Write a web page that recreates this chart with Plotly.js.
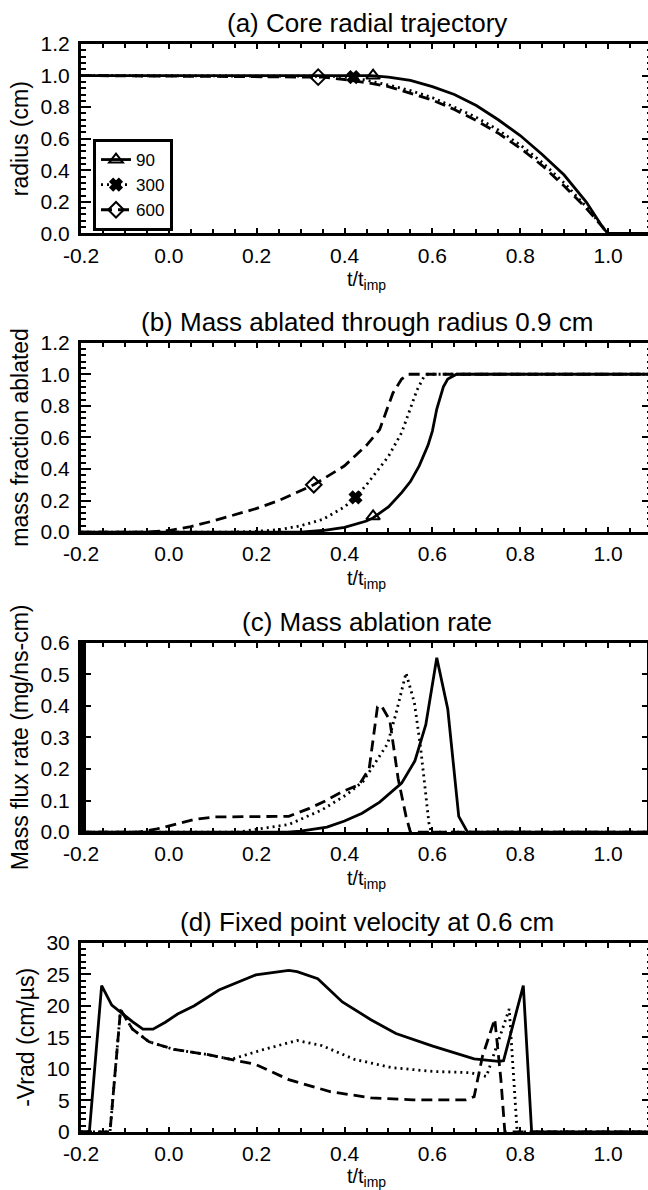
<!DOCTYPE html>
<html>
<head>
<meta charset="utf-8">
<script src="https://cdn.plot.ly/plotly-3.0.1.min.js"></script>
<style>
html,body{margin:0;padding:0;overflow:hidden;background:#fff;}
#chart{width:656px;height:1190px;}
</style>
</head>
<body>
<div id="chart"></div>
<script>
// ---------- Panel (a): core radial trajectory ----------
const tA90  = [-0.2, 0.46, 0.5, 0.55, 0.6, 0.65, 0.7, 0.75, 0.8, 0.85, 0.9, 0.95, 0.99, 1.0, 1.1];
const rA90  = [1.0, 1.0, 0.99, 0.97, 0.93, 0.88, 0.81, 0.72, 0.62, 0.5, 0.37, 0.2, 0.03, 0.0, 0.0];
const tA300 = [-0.2, 0.40, 0.45, 0.5, 0.55, 0.6, 0.65, 0.7, 0.75, 0.8, 0.85, 0.9, 0.95, 0.99, 1.0, 1.1];
const rA300 = [1.0, 0.995, 0.97, 0.94, 0.905, 0.86, 0.8, 0.735, 0.655, 0.56, 0.45, 0.32, 0.17, 0.03, 0.0, 0.0];
const tA600 = [-0.2, 0.3, 0.35, 0.4, 0.45, 0.5, 0.55, 0.6, 0.65, 0.7, 0.75, 0.8, 0.85, 0.9, 0.95, 0.99, 1.0, 1.1];
const rA600 = [1.0, 0.995, 0.99, 0.975, 0.955, 0.93, 0.89, 0.845, 0.785, 0.715, 0.635, 0.54, 0.43, 0.3, 0.16, 0.03, 0.0, 0.0];
// marker points (a)
const mkA_t = [0.465, 0.42, 0.34];
const mkA_r = [1.0, 0.99, 0.99];

// ---------- Panel (b): mass fraction ablated ----------
const tB90  = [-0.2, 0.3, 0.35, 0.40, 0.45, 0.465, 0.50, 0.53, 0.55, 0.57, 0.59, 0.60, 0.61, 0.625, 0.635, 0.655, 1.1];
const mB90  = [0.0, 0.0, 0.01, 0.03, 0.07, 0.09, 0.16, 0.25, 0.32, 0.42, 0.55, 0.64, 0.78, 0.92, 0.97, 1.0, 1.0];
const tB300 = [-0.2, 0.15, 0.2, 0.25, 0.3, 0.35, 0.4, 0.425, 0.45, 0.5, 0.53, 0.55, 0.565, 0.58, 0.59, 1.1];
const mB300 = [0.0, 0.0, 0.005, 0.015, 0.04, 0.08, 0.16, 0.22, 0.3, 0.48, 0.63, 0.78, 0.9, 0.98, 1.0, 1.0];
const tB600 = [-0.2, -0.05, 0.0, 0.05, 0.1, 0.15, 0.2, 0.25, 0.3, 0.33, 0.4, 0.45, 0.48, 0.5, 0.51, 0.53, 0.545, 1.1];
const mB600 = [0.0, 0.0, 0.01, 0.035, 0.07, 0.11, 0.15, 0.2, 0.26, 0.3, 0.42, 0.55, 0.65, 0.8, 0.88, 0.97, 1.0, 1.0];
const mkB_t = [0.465, 0.425, 0.33];
const mkB_m = [0.1, 0.22, 0.3];

// ---------- Panel (c): mass ablation rate ----------
const tC90  = [-0.2, 0.27, 0.3, 0.36, 0.40, 0.44, 0.48, 0.53, 0.56, 0.585, 0.61, 0.635, 0.66, 0.68, 1.1];
const fC90  = [0.0, 0.0, 0.003, 0.016, 0.035, 0.06, 0.095, 0.155, 0.225, 0.34, 0.552, 0.39, 0.05, 0.0, 0.0];
const tC300 = [-0.2, 0.16, 0.18, 0.273, 0.348, 0.404, 0.442, 0.46, 0.498, 0.517, 0.54, 0.559, 0.573, 0.592, 0.597, 1.1];
const fC300 = [0.0, 0.0, 0.005, 0.024, 0.07, 0.118, 0.16, 0.2, 0.28, 0.375, 0.504, 0.41, 0.27, 0.03, 0.0, 0.0];
const tC600 = [-0.2, -0.07, -0.027, 0.02, 0.058, 0.105, 0.18, 0.273, 0.32, 0.358, 0.395, 0.433, 0.456, 0.475, 0.484, 0.503, 0.522, 0.54, 0.55, 1.1];
const fC600 = [0.0, 0.0, 0.01, 0.027, 0.04, 0.048, 0.048, 0.05, 0.075, 0.1, 0.128, 0.15, 0.2, 0.397, 0.4, 0.354, 0.17, 0.05, 0.0, 0.0];

// ---------- Panel (d): fixed point velocity ----------
const tD90  = [-0.2, -0.181, -0.153, -0.13, -0.083, -0.059, -0.036, -0.008, 0.02, 0.058, 0.114, 0.198, 0.273, 0.292, 0.339, 0.395, 0.46, 0.517, 0.601, 0.695, 0.751, 0.762, 0.807, 0.826, 1.1];
const vD90  = [0, 0, 23.2, 20.1, 17.5, 16.3, 16.3, 17.4, 18.7, 20.0, 22.5, 24.9, 25.6, 25.4, 24.3, 20.6, 17.8, 15.6, 13.6, 11.6, 11.2, 11.3, 23.2, 0, 0];
const tD300 = [-0.2, -0.134, -0.11, -0.083, -0.045, 0.011, 0.086, 0.142, 0.217, 0.292, 0.348, 0.423, 0.508, 0.601, 0.686, 0.723, 0.775, 0.793, 1.1];
const vD300 = [0, 0, 19.4, 16.3, 14.3, 13.1, 12.3, 11.5, 13.1, 14.5, 13.7, 11.5, 10.2, 9.6, 9.4, 8.8, 19.5, 0, 0];
const tD600 = [-0.2, -0.134, -0.11, -0.083, -0.045, 0.011, 0.086, 0.142, 0.198, 0.273, 0.367, 0.461, 0.554, 0.676, 0.695, 0.714, 0.742, 0.756, 0.765, 1.1];
const vD600 = [0, 0, 19.4, 16.3, 14.3, 13.1, 12.3, 11.5, 10.7, 8.3, 6.4, 5.4, 5.1, 5.1, 5.6, 12.0, 17.9, 8.3, 0, 0];

// ---------- labels ----------
const seriesNames = ['90', '300', '600'];
const panelTitles = ['(a) Core radial trajectory', '(b) Mass ablated through radius 0.9 cm',
                     '(c) Mass ablation rate', '(d) Fixed point velocity at 0.6 cm'];
const yTitles = ['radius (cm)', 'mass fraction ablated', 'Mass flux rate (mg/ns-cm)', '-Vrad (cm/\u00b5s)'];
const xTitle = 't/t<sub>imp</sub>';
const xTickVals = [-0.2, 0.0, 0.2, 0.4, 0.6, 0.8, 1.0];
const xTickText = ['-0.2', '0.0', '0.2', '0.4', '0.6', '0.8', '1.0'];

// ---------- styling ----------
const FONT = 'Liberation Sans, Arial, Helvetica, sans-serif';
const W = 656, H = 1190, ML = 81, MR = 4, MT = 44, MB = 58;
const PH = H - MT - MB;
const panelTopPx = [44, 342.7, 642.7, 942.7];
const panelHpx = 189.4;
function dom(top) { return [(H - MB - (top + panelHpx)) / PH, (H - MB - top) / PH]; }

const LW = 2.8;
const styles = [
  {dash: 'solid', symbol: 'triangle-up-open'},
  {dash: '2px,4px', symbol: 'x'},
  {dash: '11px,6px', symbol: 'diamond-open'}
];

function lineTrace(x, y, k, ax) {
  return {x: x, y: y, mode: 'lines', xaxis: 'x' + ax, yaxis: 'y' + ax, showlegend: false,
          line: {color: 'black', width: LW, dash: styles[k].dash}, hoverinfo: 'skip'};
}
function markerTrace(x, y, k, ax, legend) {
  return {x: [x], y: [y], mode: legend ? 'lines+markers' : 'markers', name: seriesNames[k],
          xaxis: 'x' + ax, yaxis: 'y' + ax, showlegend: !!legend,
          line: {color: 'black', width: LW, dash: styles[k].dash},
          marker: {symbol: styles[k].symbol, size: k === 1 ? 10 : 12, color: 'black',
                   line: {color: 'black', width: 2}}, cliponaxis: false, hoverinfo: 'skip'};
}

const traces = [
  lineTrace(tA90, rA90, 0, ''), lineTrace(tA300, rA300, 1, ''), lineTrace(tA600, rA600, 2, ''),
  lineTrace(tB90, mB90, 0, '2'), lineTrace(tB300, mB300, 1, '2'), lineTrace(tB600, mB600, 2, '2'),
  lineTrace(tC90, fC90, 0, '3'), lineTrace(tC300, fC300, 1, '3'), lineTrace(tC600, fC600, 2, '3'),
  lineTrace(tD90, vD90, 0, '4'), lineTrace(tD300, vD300, 1, '4'), lineTrace(tD600, vD600, 2, '4')
];
for (let k = 0; k < 3; k++) traces.push(markerTrace(mkA_t[k], mkA_r[k], k, '', true));
for (let k = 0; k < 3; k++) traces.push(markerTrace(mkB_t[k], mkB_m[k], k, '2', false));

const tickFont = {family: FONT, size: 21, color: 'black'};

function xAxis(anchor) {
  return {
    anchor: anchor, range: [-0.2, 1.1], tickmode: 'array', tickvals: xTickVals, ticktext: xTickText,
    ticks: 'inside', ticklen: 5, tickwidth: 2, tickcolor: 'black',
    minor: {ticks: 'inside', dtick: 0.05, tick0: -0.2, ticklen: 4, tickwidth: 2, tickcolor: 'black', showgrid: false},
    showline: true, linewidth: 3, linecolor: 'black', mirror: 'allticks',
    showgrid: false, zeroline: false, tickfont: tickFont, ticklabelstandoff: 1,
    title: {text: xTitle, font: {family: FONT, size: 20, color: 'black'}, standoff: 7}
  };
}
function yAxis(k, range, dtick, minorDtick, fmt) {
  return {
    domain: dom(panelTopPx[k]), anchor: k === 0 ? 'x' : 'x' + (k + 1), range: range,
    dtick: dtick, tick0: 0, tickformat: fmt,
    ticks: 'inside', ticklen: 10, tickwidth: 2, tickcolor: 'black',
    minor: {ticks: 'inside', dtick: minorDtick, tick0: 0, ticklen: 5, tickwidth: 2, tickcolor: 'black', showgrid: false},
    showline: true, linewidth: 3, linecolor: 'black', mirror: 'allticks',
    showgrid: false, zeroline: false, tickfont: tickFont, ticklabelstandoff: 4,
    title: {text: yTitles[k], font: {family: FONT, size: 23, color: 'black'}, standoff: 6}
  };
}

const annotations = panelTitles.map((txt, k) => ({
  text: txt, xref: 'paper', yref: 'paper', x: 0.5, y: dom(panelTopPx[k])[1],
  xanchor: 'center', yanchor: 'bottom', yshift: 4, showarrow: false,
  font: {family: FONT, size: 26, color: 'black'}
}));

const layout = {
  width: W, height: H, margin: {l: ML, r: MR, t: MT, b: MB},
  paper_bgcolor: 'white', plot_bgcolor: 'white',
  font: {family: FONT, color: 'black'},
  xaxis: xAxis('y'), xaxis2: xAxis('y2'), xaxis3: xAxis('y3'), xaxis4: xAxis('y4'),
  yaxis: yAxis(0, [0, 1.2], 0.2, 0.04, '.1f'),
  yaxis2: yAxis(1, [0, 1.2], 0.2, 0.04, '.1f'),
  yaxis3: yAxis(2, [0, 0.6], 0.1, 0.005, '.1f'),
  yaxis4: yAxis(3, [0, 30], 5, 1, 'd'),
  annotations: annotations,
  legend: {
    x: (93 - ML) / (W - ML - MR), xanchor: 'left', y: (H - MB - 139) / PH, yanchor: 'top',
    bgcolor: 'white', bordercolor: 'black', borderwidth: 3,
    font: {family: FONT, size: 17, color: 'black'}, tracegroupgap: 0,
    itemwidth: 30
  },
  showlegend: true
};

Plotly.newPlot('chart', traces, layout, {staticPlot: true, displayModeBar: false});
</script>
</body>
</html>
